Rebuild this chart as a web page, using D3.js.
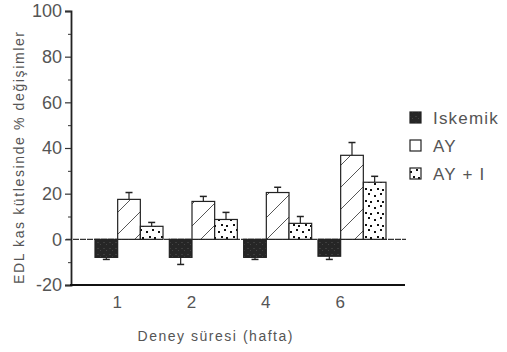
<!DOCTYPE html>
<html><head><meta charset="utf-8">
<script src="https://cdn.jsdelivr.net/npm/d3@7"></script>
<style>
body{margin:0;background:#fff;}
svg text{font-family:"Liberation Sans",Arial,sans-serif;fill:#555;}
</style></head>
<body><svg id="c" width="507" height="352"></svg>
<script>
const weeks = ["1", "2", "4", "6"];
const series = ["Iskemik", "AY", "AY + I"];
const iskemik = [-7.9, -7.9, -7.9, -7.4];
const iskemikErr = [0.9, 3.1, 0.9, 1.4];
const ay = [17.5, 16.6, 20.5, 36.8];
const ayErr = [3.0, 2.2, 2.3, 5.6];
const ayI = [5.7, 8.7, 7.0, 25.0];
const ayIErr = [1.7, 3.1, 3.0, 2.6];
const yTicks = [-20, 0, 20, 40, 60, 80, 100];
const yMinor = [-10, 10, 30, 50, 70, 90];

const svg = d3.select("#c");
const defs = svg.append("defs");

const hatch = defs.append("pattern").attr("id", "hatch").attr("patternUnits", "userSpaceOnUse")
  .attr("width", 22).attr("height", 22).attr("x", 0).attr("y", 0);
hatch.append("rect").attr("width", 22).attr("height", 22).attr("fill", "#fff");
hatch.append("path").attr("d", "M0,22 L22,0 M-11,11 L11,-11 M11,33 L33,11")
  .attr("stroke", "#444").attr("stroke-width", 0.9);

const dots = defs.append("pattern").attr("id", "dots").attr("patternUnits", "userSpaceOnUse")
  .attr("width", 12).attr("height", 12);
dots.append("rect").attr("width", 12).attr("height", 12).attr("fill", "#fff");
[[2,3],[8,1],[5,8],[10,9]].forEach(([cx,cy]) =>
  dots.append("rect").attr("x", cx).attr("y", cy).attr("width", 2).attr("height", 2).attr("fill", "#111"));

const dark = defs.append("pattern").attr("id", "dark").attr("patternUnits", "userSpaceOnUse")
  .attr("width", 6).attr("height", 6);
dark.append("rect").attr("width", 6).attr("height", 6).attr("fill", "#262626");
dark.append("rect").attr("x", 1).attr("y", 2).attr("width", 2).attr("height", 1).attr("fill", "#3d3d3d");
dark.append("rect").attr("x", 4).attr("y", 4).attr("width", 1).attr("height", 1).attr("fill", "#444");

const fills = ["url(#dark)", "url(#hatch)", "url(#dots)"];
const values = [iskemik, ay, ayI];
const errs = [iskemikErr, ayErr, ayIErr];

const y = d3.scaleLinear().domain([-20, 100]).range([285, 11]);
const x0 = d3.scaleBand().domain(weeks).range([95, 386]).paddingInner(0.085).paddingOuter(0);
const x1 = d3.scaleBand().domain(series).range([0, x0.bandwidth()]);

// zero reference line
svg.append("line").attr("x1", 66).attr("x2", 406).attr("y1", y(0)).attr("y2", y(0))
  .attr("stroke", "#333").attr("stroke-width", 1.3).attr("stroke-dasharray", "6,1");

// bars with one-sided error bars
weeks.forEach((w, i) => {
  series.forEach((s, j) => {
    const v = values[j][i], e = errs[j][i];
    const bx = x0(w) + x1(s), bw = x1.bandwidth();
    const cx = bx + bw / 2;
    const tip = v >= 0 ? v + e : v - e;
    svg.append("line").attr("x1", cx).attr("x2", cx).attr("y1", y(v)).attr("y2", y(tip))
      .attr("stroke", "#222").attr("stroke-width", 1.2);
    svg.append("line").attr("x1", cx - 3.5).attr("x2", cx + 3.5).attr("y1", y(tip)).attr("y2", y(tip))
      .attr("stroke", "#222").attr("stroke-width", 1.5);
    svg.append("rect").attr("x", bx).attr("width", bw)
      .attr("y", y(Math.max(0, v))).attr("height", Math.abs(y(v) - y(0)))
      .attr("fill", fills[j]).attr("stroke", "#222").attr("stroke-width", 1.2);
  });
});

// y axis
const yAxis = svg.append("g").attr("transform", "translate(71,0)")
  .call(d3.axisLeft(y).tickValues(yTicks).tickSize(6).tickPadding(3).tickFormat(d => String(d)));
yAxis.select(".domain").attr("stroke", "#222").attr("stroke-width", 1.8);
yAxis.selectAll(".tick line").attr("stroke", "#333").attr("stroke-width", 1.2);
yAxis.selectAll("text").attr("font-size", 18).attr("fill", "#666")
  .style("font-family", "Liberation Sans, Arial, sans-serif");
svg.append("g").attr("transform", "translate(71,0)")
  .call(d3.axisLeft(y).tickValues(yMinor).tickSize(3).tickFormat(""))
  .call(g => g.select(".domain").remove())
  .selectAll(".tick line").attr("stroke", "#333");

// x axis: labels sit under each week's first bar edge
const xPos = d3.scalePoint().domain(weeks)
  .range([x0("1") + x1.bandwidth() - 1, x0("6") + x1.bandwidth() - 1]);
const xAxis = svg.append("g").attr("transform", "translate(0,285)")
  .call(d3.axisBottom(xPos).tickSize(0).tickPadding(11));
xAxis.select(".domain").remove();
xAxis.selectAll("text").attr("font-size", 17).attr("fill", "#666")
  .style("font-family", "Liberation Sans, Arial, sans-serif");
svg.append("line").attr("x1", 70).attr("x2", 405).attr("y1", 285).attr("y2", 285)
  .attr("stroke", "#111").attr("stroke-width", 2);

// axis titles
svg.append("text").attr("x", 215).attr("y", 341).attr("text-anchor", "middle")
  .attr("font-size", 14).attr("fill", "#555")
  .attr("textLength", 155).attr("lengthAdjust", "spacing").text("Deney süresi (hafta)");
svg.append("text").attr("transform", "translate(24,158) rotate(-90)").attr("text-anchor", "middle")
  .attr("font-size", 14).attr("fill", "#555")
  .attr("textLength", 252).attr("lengthAdjust", "spacing").text("EDL kas kütlesinde % değişimler");

// legend
const legend = svg.append("g");
series.forEach((s, j) => {
  const ly = 112 + j * 28;
  legend.append("rect").attr("x", 410).attr("y", ly).attr("width", 11).attr("height", 11)
    .attr("fill", fills[j]).attr("stroke", "#222").attr("stroke-width", 1.2);
  legend.append("text").attr("x", 433).attr("y", ly + 12).attr("font-size", 17)
    .attr("fill", "#555").attr("letter-spacing", 1.2).text(s);
});
</script></body></html>
